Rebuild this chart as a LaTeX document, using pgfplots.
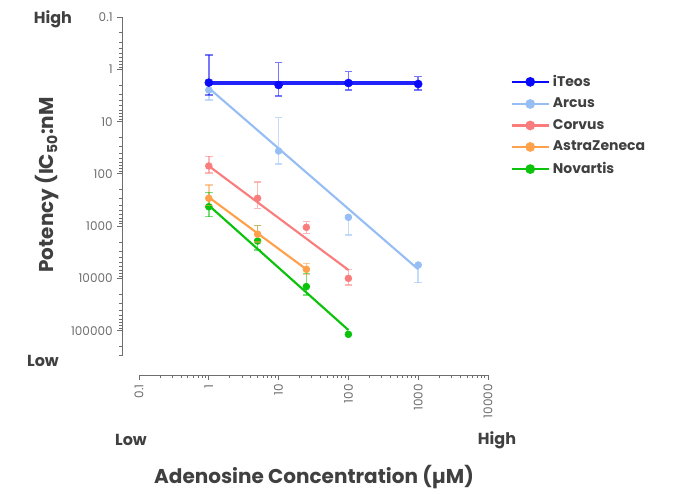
\documentclass[border=0pt]{standalone}
\usepackage{fontspec}
\setmainfont{Poppins}
\usepackage{pgfplots}
\pgfplotsset{compat=1.18}
\definecolor{txt}{RGB}{64,64,64}
\definecolor{tickc}{RGB}{110,110,110}
\definecolor{cIteos}{RGB}{10,10,250}
\definecolor{cArcus}{RGB}{150,190,245}
\definecolor{cCorvus}{RGB}{250,125,125}
\definecolor{cAZ}{RGB}{255,160,75}
\definecolor{cNov}{RGB}{10,195,10}

\pgfplotsset{
  ebar/.style={#1, line width=1.1pt, opacity=0.55, mark=-, mark size=2.8pt,
    mark options={solid, line width=1.1pt}, unbounded coords=jump, forget plot},
  fit/.style={#1, line width=1.6pt, no marks, forget plot},
  pts/.style={#1, only marks, mark=*, mark size=2.6pt, forget plot},
}

\begin{document}
\begin{tikzpicture}[x=0.75pt,y=0.75pt]
\path (0,0) rectangle (681,489);
\begin{axis}[
  at={(91.5pt,85.5pt)}, anchor=south west,
  scale only axis, width=274.5pt, height=268.5pt,
  xmode=log, ymode=log, y dir=reverse,
  xmin=0.0571, xmax=10000, ymin=0.1, ymax=7e5,
  axis line style={draw=none},
  clip=false,
  xtick={0.1,1,10,100,1000,10000},
  xticklabels={0.1,1,10,100,1000,10000},
  minor xtick={0.2,0.3,0.4,0.5,0.6,0.7,0.8,0.9,2,3,4,5,6,7,8,9,20,30,40,50,60,70,80,90,200,300,400,500,600,700,800,900,2000,3000,4000,5000,6000,7000,8000,9000},
  ytick={0.1,1,10,100,1000,10000,100000},
  yticklabels={0.1,1,10,100,1000,10000,100000},
  minor ytick={0.2,0.3,0.4,0.5,0.6,0.7,0.8,0.9,2,3,4,5,6,7,8,9,20,30,40,50,60,70,80,90,200,300,400,500,600,700,800,900,2000,3000,4000,5000,6000,7000,8000,9000,20000,30000,40000,50000,60000,70000,80000,90000,200000,300000},
  xtick pos=left, ytick pos=left,
  xticklabel pos=left,
  tick align=outside,
  major tick length=3.5pt, minor tick length=2pt,
  tick style={tickc, line width=0.6pt},
  ticklabel style={font=\fontsize{9}{10}\selectfont, text=tickc},
  xticklabel style={rotate=90, anchor=east},
  legend style={draw=none, fill=none, inner sep=0pt,
    at={(axis description cs:1.06,0.697)}, anchor=west,
    font=\bfseries\fontsize{10.5}{12}\selectfont, text=txt,
    row sep=3.2pt, /tikz/column 2/.style={column sep=10pt}},
  legend cell align=left,
  legend image code/.code={\draw[#1, mark repeat=2, mark phase=2] plot coordinates {(0pt,0pt) (14pt,0pt) (28pt,0pt)};},
]
\addlegendimage{cIteos, line width=2pt, mark=*, mark size=2.6pt}
\addlegendimage{cArcus, line width=2pt, mark=*, mark size=2.6pt}
\addlegendimage{cCorvus, line width=2pt, mark=*, mark size=2.6pt}
\addlegendimage{cAZ, line width=2pt, mark=*, mark size=2.6pt}
\addlegendimage{cNov, line width=2pt, mark=*, mark size=2.6pt}

% Novartis
\addplot[ebar=cNov] coordinates {(1,225) (1,658) (1,nan) (5,980) (5,2850) (5,nan) (25,7950) (25,20650)};
\addplot[fit=cNov] coordinates {(1,400) (100,96600)};
\addplot[pts=cNov] coordinates {(1,424) (5,1920) (25,14300) (100,116700)};
% AstraZeneca
\addplot[ebar=cAZ] coordinates {(1,162) (1,400) (1,nan) (5,980) (5,2000) (5,nan) (25,5130) (25,8300)};
\addplot[fit=cAZ] coordinates {(1,280) (25,6680)};
\addplot[pts=cAZ] coordinates {(1,293) (5,1420) (25,6680)};
% Corvus
\addplot[ebar=cCorvus] coordinates {(1,46) (1,97) (1,nan) (5,143) (5,455) (5,nan) (25,820) (25,1370) (25,nan) (100,6680) (100,13300)};
\addplot[fit=cCorvus] coordinates {(1,70.6) (100,6870)};
\addplot[pts=cCorvus] coordinates {(1,70.6) (5,293) (25,1050) (100,9930)};
% Arcus
\addplot[ebar=cArcus] coordinates {(1,1.6) (1,3.9) (1,nan) (10,8.4) (10,65) (10,nan) (100,676) (100,1470) (100,nan) (1000,5520) (1000,12000)};
\addplot[fit=cArcus] coordinates {(1,2.28) (1000,6670)};
\addplot[pts=cArcus] coordinates {(1,2.49) (10,36.5) (100,676) (1000,5520)};
% iTeos
\addplot[ebar=cIteos] coordinates {(1,0.53) (1,3.1) (1,nan) (10,0.75) (10,3.24) (10,nan) (100,1.11) (100,2.49) (100,nan) (1000,1.38) (1000,2.49)};
\addplot[fit=cIteos, line width=2.3pt, opacity=0.9] coordinates {(1,1.83) (1000,1.83)};
\addplot[pts=cIteos, mark size=3pt] coordinates {(1,1.80) (10,2.0) (100,1.83) (1000,1.91)};

\legend{iTeos,Arcus,Corvus,AstraZeneca,Novartis}

\draw[tickc, line width=0.7pt] (axis cs:0.1,7e5) -- (axis cs:10000,7e5);
\draw[tickc, line width=0.7pt] (axis cs:0.0571,0.1) -- (axis cs:0.0571,3e5);
\end{axis}
\begin{scope}[text=txt, font=\bfseries\fontsize{12}{14}\selectfont]
\node at (53,470) {High};
\node at (43,128) {Low};
\node at (131,49) {Low};
\node at (497,49) {High};
\end{scope}
\node[text=txt, font=\bfseries\fontsize{15}{17}\selectfont] at (314,12) {Adenosine Concentration (µM)};
\node[text=txt, font=\bfseries\fontsize{15}{17}\selectfont, rotate=90] at (47,304) {Potency (IC\textsubscript{50}:nM};
\end{tikzpicture}
\end{document}
